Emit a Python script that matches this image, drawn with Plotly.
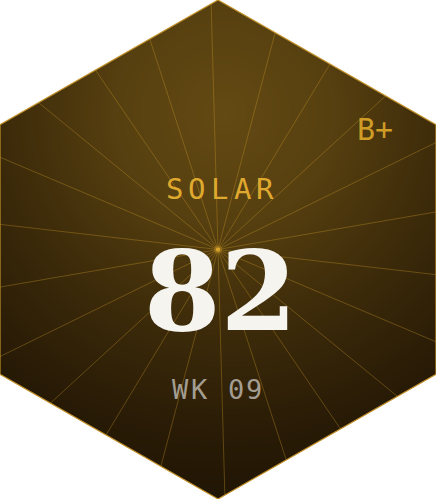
import numpy as np
import plotly.graph_objects as go

# badge values
LABEL = "SOLAR"
SCORE = 82
GRADE = "B+"
WEEK = 9

W, H = 436, 499
CX, CY = 218, 249.5
N_RAYS = 22
RAY_OFFSET = -1.6  # degrees off vertical
GLOW_X, GLOW_Y = 224, 112

hex_x = [W / 2, W, W, W / 2, 0, 0]
hex_y = [0, H * 0.25, H * 0.75, H, H * 0.75, H * 0.25]


def _path(xs, ys):
    pts = " L ".join(f"{x},{y}" for x, y in zip(xs, ys))
    return f"M {pts} Z"


# radial glow background, masked to the hexagon further down
gx = np.linspace(0, W, 110)
gy = np.linspace(0, H, 126)
zz = np.hypot(gx[None, :] - GLOW_X, gy[:, None] - GLOW_Y)

fig = go.Figure(
    go.Heatmap(
        x=gx, y=gy, z=zz, zmin=0, zmax=420, zsmooth="best", showscale=False,
        hoverinfo="skip",
        colorscale=[
            [0.0, "#634913"], [0.25, "#574010"], [0.5, "#3e2c0a"],
            [0.75, "#2a1c06"], [1.0, "#1c1203"],
        ],
    )
)

shapes = []
for k in range(N_RAYS):
    a = np.radians(RAY_OFFSET + k * 360 / N_RAYS)
    shapes.append(dict(
        type="line", x0=CX, y0=CY, x1=CX + 520 * np.sin(a), y1=CY - 520 * np.cos(a),
        line=dict(color="rgba(214,160,42,0.33)", width=1),
    ))

# white corners outside the hexagon
corners = [
    ([0, W / 2, 0], [0, 0, hex_y[5]]),
    ([W / 2, W, W], [0, 0, hex_y[1]]),
    ([W, W, W / 2], [hex_y[2], H, H]),
    ([0, W / 2, 0], [hex_y[4], H, H]),
]
for xs, ys in corners:
    shapes.append(dict(type="path", path=_path(xs, ys), fillcolor="white",
                       line=dict(width=0)))
shapes.append(dict(type="path", path=_path(hex_x, hex_y),
                   line=dict(color="#c2912a", width=1.2)))
fig.update_layout(shapes=shapes)

# centre spark
fig.add_scatter(x=[CX], y=[CY], mode="markers", hoverinfo="skip",
                marker=dict(size=8, color="rgba(240,176,48,0.25)", line_width=0))
fig.add_scatter(x=[CX], y=[CY], mode="markers", hoverinfo="skip",
                marker=dict(size=4, color="#f2b43a", line_width=0))

ann = []
mono = "DejaVu Sans Mono"


def spaced(text, cx, cy, pitch, size, color):
    n = len(text)
    for i, ch in enumerate(text):
        ann.append(dict(x=cx + (i - (n - 1) / 2) * pitch, y=cy, text=ch,
                        showarrow=False, xanchor="center", yanchor="middle",
                        font=dict(family=mono, size=size, color=color)))


spaced(LABEL, 219.5, 189, 22.6, 29, "#dfa82e")
spaced(f"WK {WEEK:02d}", 217.5, 389, 18.4, 27, "#a39d92")
ann.append(dict(x=220, y=291, text=str(SCORE), showarrow=False,
                xanchor="center", yanchor="middle",
                font=dict(family="DejaVu Serif", size=110, color="#f6f4ef",
                          weight="bold")))
ann.append(dict(x=375, y=129, text=GRADE, showarrow=False,
                xanchor="center", yanchor="middle",
                font=dict(family=mono, size=30, color="#cf9c26")))

fig.update_layout(
    annotations=ann,
    width=W, height=H, margin=dict(l=0, r=0, t=0, b=0),
    paper_bgcolor="white", plot_bgcolor="white", showlegend=False,
    xaxis=dict(range=[0, W], visible=False, fixedrange=True),
    yaxis=dict(range=[H, 0], visible=False, fixedrange=True),
)

fig.write_html("out.html", config={"displayModeBar": False},
               post_script="document.body.style.margin='0';")
